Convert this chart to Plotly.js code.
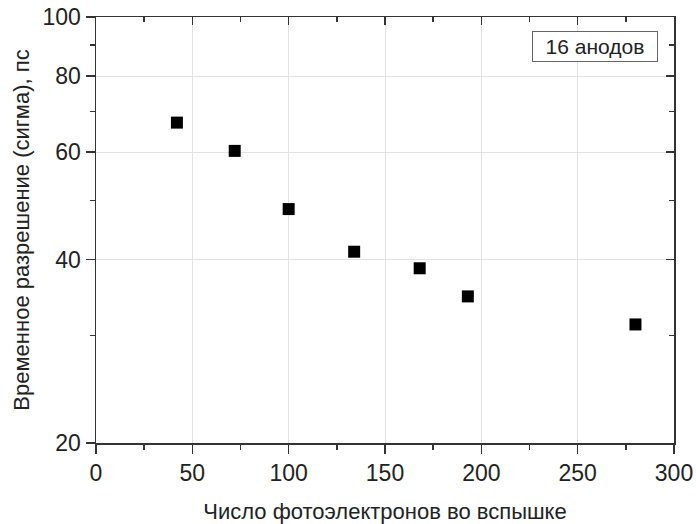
<!DOCTYPE html>
<html>
<head>
<meta charset="utf-8">
<script src="https://cdn.plot.ly/plotly-3.0.1.min.js"></script>
<style>
  html, body { margin: 0; padding: 0; background: #fff; }
  #chart { width: 696px; height: 524px; }
</style>
</head>
<body>
<div id="chart"></div>
<script>
// Photoelectrons per flash vs. timing resolution (sigma), 16 anodes
const photoelectrons = [42, 72, 100, 134, 168, 193, 280];
const resolutionPs = [67.1, 60.3, 48.4, 41.2, 38.7, 34.8, 31.3];

const xMajorTicks = [0, 50, 100, 150, 200, 250, 300];
const xMinorTicks = [25, 75, 125, 175, 225, 275];
const yMajorTicks = [20, 40, 60, 80, 100];
const yMinorTicks = [30, 50, 70, 90];

const xTitle = 'Число фотоэлектронов во вспышке';
const yTitle = 'Временное разрешение (сигма), пс';
const boxLabel = '16 анодов';

const FONT = 'Liberation Sans, Arial, sans-serif';
const TXT = '#222';
const LINE = '#333';
const GRID = '#e2e2e2';

const yRange = [Math.log10(20), Math.log10(100)];

const mainTrace = {
  x: photoelectrons,
  y: resolutionPs,
  type: 'scatter',
  mode: 'markers',
  marker: { symbol: 'square', size: 12, color: '#000' },
  hoverinfo: 'x+y',
  showlegend: false
};

// invisible copy that gives the top/right frame axes their subplot
const frameTrace = {
  x: photoelectrons,
  y: resolutionPs,
  xaxis: 'x2',
  yaxis: 'y2',
  type: 'scatter',
  mode: 'markers',
  marker: { opacity: 0 },
  hoverinfo: 'skip',
  showlegend: false
};

const layout = {
  width: 696,
  height: 524,
  margin: { l: 96, r: 22, t: 17, b: 81 },
  paper_bgcolor: '#fff',
  plot_bgcolor: '#fff',
  font: { family: FONT, color: TXT, size: 23 },
  xaxis: {
    range: [0, 300],
    tickmode: 'array',
    tickvals: xMajorTicks,
    ticks: 'outside',
    ticklen: 9,
    tickwidth: 1.5,
    tickcolor: LINE,
    showline: true,
    linecolor: LINE,
    linewidth: 1.5,
    showgrid: true,
    gridcolor: GRID,
    gridwidth: 1,
    zeroline: false,
    tickfont: { size: 23, color: TXT },
    minor: { tickmode: 'array', tickvals: xMinorTicks, ticks: 'outside', ticklen: 5, tickwidth: 1.5, tickcolor: LINE, showgrid: false },
    title: { text: xTitle, font: { size: 22, color: TXT }, standoff: 18 },
    automargin: false
  },
  yaxis: {
    type: 'log',
    range: yRange,
    tickmode: 'array',
    tickvals: yMajorTicks,
    ticktext: yMajorTicks.map(String),
    ticks: 'outside',
    ticklen: 9,
    tickwidth: 1.5,
    tickcolor: LINE,
    showline: true,
    linecolor: LINE,
    linewidth: 1.5,
    showgrid: true,
    gridcolor: GRID,
    gridwidth: 1,
    zeroline: false,
    tickfont: { size: 23, color: TXT },
    minor: { tickmode: 'array', tickvals: yMinorTicks, ticks: 'outside', ticklen: 5, tickwidth: 1.5, tickcolor: LINE, showgrid: false },
    title: { text: yTitle, font: { size: 22, color: TXT }, standoff: 7 },
    automargin: false
  },
  xaxis2: {
    overlaying: 'x',
    side: 'top',
    anchor: 'y2',
    range: [0, 300],
    tickmode: 'array',
    tickvals: xMajorTicks,
    ticks: 'inside',
    ticklen: 8,
    tickwidth: 1.5,
    tickcolor: LINE,
    showticklabels: false,
    showline: true,
    linecolor: LINE,
    linewidth: 1.5,
    showgrid: false,
    zeroline: false,
    minor: { tickmode: 'array', tickvals: xMinorTicks, ticks: 'inside', ticklen: 5, tickwidth: 1.5, tickcolor: LINE, showgrid: false }
  },
  yaxis2: {
    overlaying: 'y',
    side: 'right',
    anchor: 'x2',
    type: 'log',
    range: yRange,
    tickmode: 'array',
    tickvals: yMajorTicks,
    ticks: 'inside',
    ticklen: 8,
    tickwidth: 1.5,
    tickcolor: LINE,
    showticklabels: false,
    showline: true,
    linecolor: LINE,
    linewidth: 1.5,
    showgrid: false,
    zeroline: false,
    minor: { tickmode: 'array', tickvals: yMinorTicks, ticks: 'inside', ticklen: 5, tickwidth: 1.5, tickcolor: LINE, showgrid: false }
  },
  annotations: [{
    text: boxLabel,
    xref: 'paper',
    yref: 'paper',
    x: 0.863,
    y: 0.93,
    xanchor: 'center',
    yanchor: 'middle',
    showarrow: false,
    font: { size: 21, color: TXT },
    bgcolor: '#fff',
    bordercolor: '#666',
    borderwidth: 1,
    borderpad: 3,
    width: 118,
    height: 23
  }]
};

Plotly.newPlot('chart', [mainTrace, frameTrace], layout, { displayModeBar: false, staticPlot: true });
</script>
</body>
</html>
